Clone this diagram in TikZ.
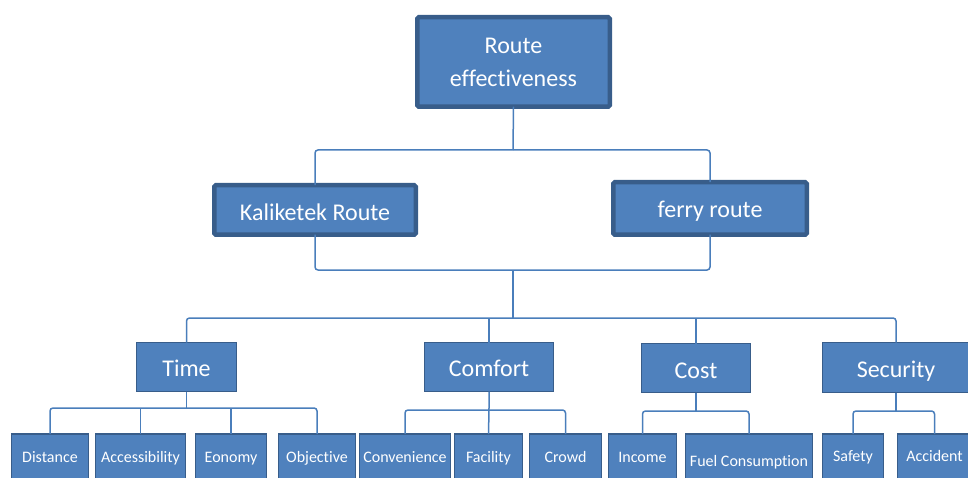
\documentclass[tikz,border=0pt]{standalone}
\usepackage{fontspec}
\setmainfont{Carlito}[Ligatures=NoCommon]
\definecolor{boxfill}{HTML}{4F81BD}
\definecolor{boxline}{HTML}{385D8A}
\definecolor{connline}{HTML}{4A7EBB}
\tikzset{
  bigbox/.style={draw=boxline, fill=boxfill, line width=4.5pt, rounded corners=1.5pt, text=white, inner sep=0pt, outer sep=0pt, font=\fontsize{24}{33}\selectfont, align=center},
  midbox/.style={draw=boxline, fill=boxfill, line width=1.2pt, text=white, inner sep=0pt, outer sep=0pt, font=\fontsize{24}{28}\selectfont, text height=18pt, text depth=0pt},
  leafbox/.style={draw=boxline, fill=boxfill, line width=1.2pt, text=white, inner sep=0pt, outer sep=0pt, font=\fontsize{16}{19}\selectfont, minimum height=46pt, text height=11pt, text depth=1pt},
  conn/.style={draw=connline, line width=1.5pt, rounded corners=3pt}
}
\begin{document}
\begin{tikzpicture}[x=1pt,y=-1pt]
\useasboundingbox (0,0) rectangle (968,478);
\clip (0,0) rectangle (968,478);
% top levels
\node[bigbox, minimum width=192.5pt, minimum height=89.5pt] (top) at (513.5,62) {Route\\effectiveness};
\node[bigbox, minimum width=201.5pt, minimum height=49.5pt, text height=22pt, text depth=0pt] (kal) at (315,210) {Kaliketek Route};
\node[bigbox, minimum width=193.5pt, minimum height=52.5pt, text height=19pt, text depth=0pt] (fer) at (710,208.5) {ferry route};
% middle level
\node[midbox, minimum width=100pt, minimum height=49pt] (time) at (186.5,367) {Time};
\node[midbox, minimum width=129pt, minimum height=49pt] (com) at (489,367) {Comfort};
\node[midbox, minimum width=109pt, minimum height=49pt, text height=20pt] (cost) at (696,368) {Cost};
\node[midbox, minimum width=147pt, minimum height=50pt, text height=19pt] (sec) at (896,367.5) {Security};
% leaves
\node[leafbox, minimum width=77pt] (dis) at (50,457) {Distance};
\node[leafbox, minimum width=90pt] (acc) at (140.5,457) {Accessibility};
\node[leafbox, minimum width=71pt] (eco) at (231,457) {Eonomy};
\node[leafbox, minimum width=77pt] (obj) at (317,457) {Objective};
\node[leafbox, minimum width=91pt] (conv) at (405,457) {Convenience};
\node[leafbox, minimum width=68pt] (fac) at (488.5,457) {Facility};
\node[leafbox, minimum width=72pt] (cro) at (565.5,457) {Crowd};
\node[leafbox, minimum width=68pt] (inc) at (642.5,457) {Income};
\node[leafbox, minimum width=127pt, minimum height=54pt] (fuel) at (749,461) {Fuel Consumption};
\node[leafbox, minimum width=61pt, text height=10pt, text depth=2pt] (saf) at (853,457) {Safety};
\node[leafbox, minimum width=74pt, text height=10pt, text depth=2pt] (acci) at (934.5,457) {Accident};
% junctions
\coordinate (j1) at (513,150);
\coordinate (j2) at (513,270);
\coordinate (j3) at (513,318);
\coordinate (jt) at (186.5,408);
\coordinate (jc) at (489,410);
\coordinate (jo) at (696,411);
\coordinate (js) at (896,411);
% connectors
\draw[conn] (top.south) -- (j1);
\draw[conn] (kal.north) -- (kal.north |- j1) -- (fer.north |- j1) -- (fer.north);
\draw[conn] (kal.south) -- (kal.south |- j2) -- (fer.south |- j2) -- (fer.south);
\draw[conn] (j2) -- (j3);
\draw[conn] (time.north) -- (time.north |- j3) -- (sec.north |- j3) -- (sec.north);
\draw[conn] (com.north) -- (com.north |- j3);
\draw[conn] (cost.north) -- (cost.north |- j3);
% time group
\draw[conn] (time.south) -- (jt);
\draw[conn] (dis.north) -- (dis.north |- jt) -- (obj.north |- jt) -- (obj.north);
\draw[conn] (acc.north) -- (acc.north |- jt);
\draw[conn] (eco.north) -- (eco.north |- jt);
% comfort group
\draw[conn] (com.south) -- (jc) -- (fac.north);
\draw[conn] (conv.north) -- (conv.north |- jc) -- (cro.north |- jc) -- (cro.north);
% cost group
\draw[conn] (cost.south) -- (jo);
\draw[conn] (inc.north) -- (inc.north |- jo) -- (fuel.north |- jo) -- (fuel.north);
% security group
\draw[conn] (sec.south) -- (js);
\draw[conn] (saf.north) -- (saf.north |- js) -- (acci.north |- js) -- (acci.north);
\end{tikzpicture}
\end{document}
